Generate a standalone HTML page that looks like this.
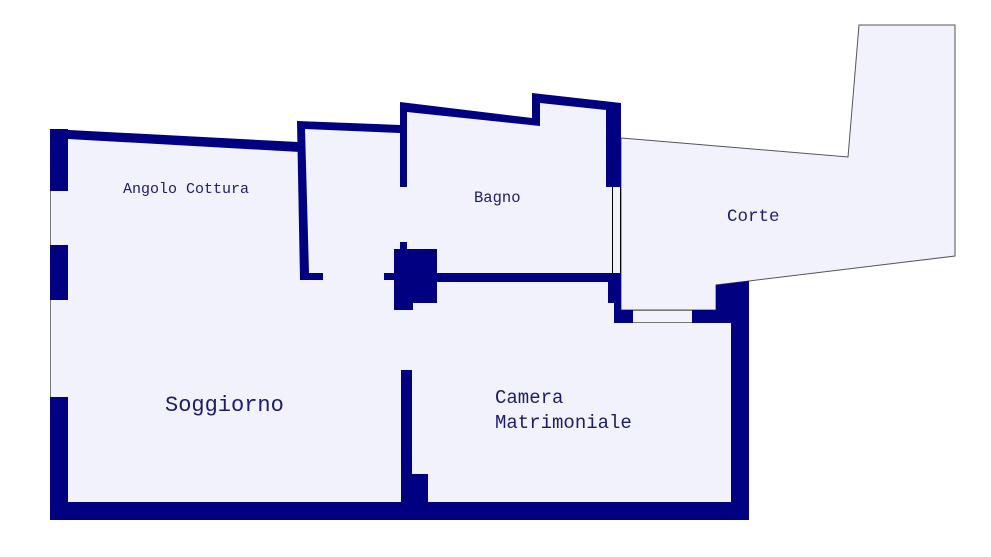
<!DOCTYPE html>
<html><head><meta charset="utf-8"><style>
html,body{margin:0;padding:0;background:#fff;}
svg{display:block;}
text{font-family:"Liberation Mono","WenQuanYi Zen Hei",monospace;fill:#1c1c6a;}
</style></head><body>
<svg width="991" height="557" viewBox="0 0 991 557" xmlns="http://www.w3.org/2000/svg">
<!-- Corte -->
<polygon points="621,138 848,157 859,25 955,25 955,256 749,281 716,285 716,310 621,310" fill="#f1f2fc" stroke="#555" stroke-width="1"/>
<!-- interior fill -->
<polygon points="50,129 297,142 297,121 400,125 400,102 532,118 532,93 621,103 621,310 749,310 749,520 50,520" fill="#f1f2fc"/>
<g fill="#000080">
<!-- left wall -->
<rect x="50" y="129" width="18" height="391"/>
<!-- top left slanted -->
<polygon points="50,129 298,142 300,152 68,139"/>
<!-- partition -->
<polygon points="297,121 400,125 400,133 305,129 309,273 323,273 323,280 300,280"/>
<!-- bagno walls -->
<polygon points="400,102 532,118 532,93 621,103 621,187 606,187 606,110 540,103 540,126 407,112 407,187 400,187"/>
<!-- horizontal wall -->
<rect x="436" y="273" width="185" height="9"/>
<rect x="608" y="273" width="13" height="30"/>
<rect x="614" y="300" width="7" height="12"/>
<rect x="614" y="310" width="19" height="13"/>
<!-- column -->
<rect x="394" y="249" width="43" height="54"/>
<rect x="394" y="300" width="19" height="10"/>
<rect x="400" y="242" width="7" height="8"/>
<rect x="384" y="273" width="11" height="7"/>
<!-- right block -->
<polygon points="692,310 716,310 716,285 749,281 749,520 731,520 731,323 692,323"/>
<!-- bottom -->
<rect x="50" y="502" width="699" height="18"/>
<!-- divider -->
<rect x="401" y="370" width="11" height="132"/>
<rect x="412" y="474" width="16" height="28"/>
</g>
<!-- windows left -->
<rect x="50" y="191" width="18" height="54" fill="#f1f2fc"/>
<line x1="50.5" y1="191" x2="50.5" y2="245" stroke="#777" stroke-width="1"/>
<rect x="50" y="300" width="18" height="97" fill="#f1f2fc"/>
<line x1="50.5" y1="300" x2="50.5" y2="397" stroke="#777" stroke-width="1"/>
<!-- window bagno -->
<rect x="612" y="187" width="9" height="86" fill="#f1f2fc"/>
<line x1="612.5" y1="187" x2="612.5" y2="273" stroke="#000" stroke-width="1"/>
<line x1="620.5" y1="187" x2="620.5" y2="273" stroke="#000" stroke-width="1"/>
<!-- window bottom -->
<rect x="633" y="310" width="59" height="13" fill="#f1f2fc"/>
<line x1="633" y1="310.5" x2="692" y2="310.5" stroke="#777" stroke-width="1"/>
<line x1="633" y1="322.5" x2="692" y2="322.5" stroke="#777" stroke-width="1"/>
<!-- labels -->
<text x="123" y="193" font-size="15">Angolo Cottura</text>
<text x="474" y="202" font-size="15.5">Bagno</text>
<text x="727" y="221" font-size="17.5">Corte</text>
<text x="165" y="411" font-size="22">Soggiorno</text>
<text x="495" y="403" font-size="19">Camera</text>
<text x="495" y="428" font-size="19">Matrimoniale</text>
</svg>
</body></html>
